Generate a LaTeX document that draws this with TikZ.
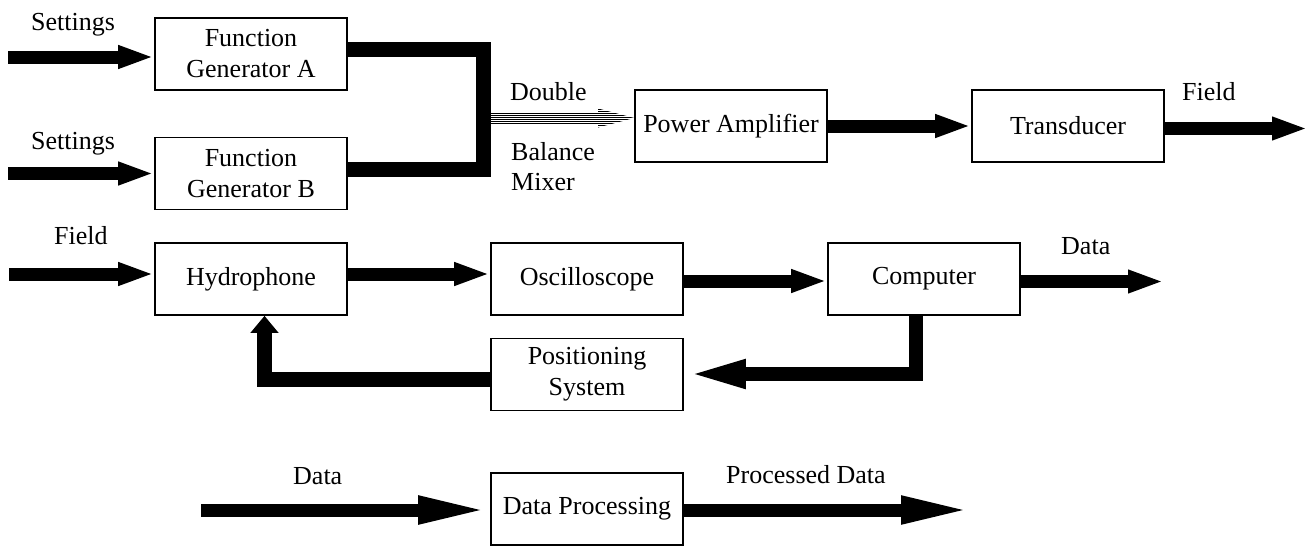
\documentclass[tikz,border=0pt]{standalone}
\usepackage{fontspec}
\setmainfont{Liberation Serif}
\usetikzlibrary{arrows.meta,calc}
\begin{document}
\begin{tikzpicture}[x=1pt,y=-1pt,
  box/.style={draw, line width=1.6pt, minimum width=192pt, minimum height=72pt,
    inner sep=0pt, align=center, font=\fontsize{26}{31}\selectfont},
  lbl/.style={anchor=base west, inner sep=0pt, font=\fontsize{26}{31}\selectfont},
  fat/.style={line width=13pt, -{Triangle[length=36pt,width=21pt]}},
  fatlong/.style={line width=13pt, -{Triangle[length=72pt,width=25pt]}},
  bus/.style={line width=15pt, line join=miter},
  stripe/.style={line width=1.0pt}
]
\useasboundingbox (0,0) rectangle (1309,546);

% boxes
\node[box] (fga) at (251,54) {Function\\Generator A};
\node[box] (fgb) at (251,173.5) {Function\\Generator B};
\node[box] (pa) at (731,126) {Power Amplifier};
\node[box] (tr) at (1068,126) {Transducer};
\node[box] (hyd) at (251,279) {Hydrophone};
\node[box] (osc) at (587,279) {Oscilloscope};
\node[box] (comp) at (924,279) {Computer};
\node[box] (pos) at (587,374.5) {Positioning\\System};
\node[box] (dp) at (587,509) {Data Processing};

% labels
\node[lbl, anchor=base] (ls1) at (73,30) {Settings};
\node[lbl, anchor=base] (ls2) at (73,149) {Settings};
\node[lbl] (ldouble) at (510,100) {Double};
\node[lbl] (lbal) at (511,160) {Balance};
\node[lbl] (lmix) at (511,190) {Mixer};
\node[lbl] (lf1) at (1182,100) {Field};
\node[lbl] (lf2) at (54,244) {Field};
\node[lbl] (ld1) at (1061,254) {Data};
\node[lbl] (ld2) at (293,484) {Data};
\node[lbl] (lpd) at (726,483) {Processed Data};

% coordinates
\coordinate (s1) at (8,57);
\coordinate (s2) at (8,173.5);
\coordinate (mt) at (483,49.5);
\coordinate (mb) at (483,169.5);
\coordinate (mo) at (491,118);
\coordinate (mh) at (598,118);
\coordinate (fe) at (1308,128.5);
\coordinate (fi) at (9,274);
\coordinate (do) at (1164,281.5);
\coordinate (cp) at (915.5,374);
\coordinate (ph) at (264.5,379.5);
\coordinate (di) at (201,510);
\coordinate (dout) at (973,510);

% settings inputs
\draw[fat] (s1) -- (s1 -| fga.west);
\draw[fat] (s2) -- (s2 -| fgb.west);

% mixer bus
\draw[bus] (fga.east |- mt) -- (mt) -- (mb) -- (fgb.east |- mb);

% striped mixer output
\foreach \dy in {-5,-3,-1,1,3,5}
  \draw[stripe] ($(mo)+(0,\dy)$) -- ($(mh)+(0,\dy)$);
\begin{scope}
  \clip ($(mh)+(0,-9.5)$) -- (pa.west |- mo) -- ($(mh)+(0,9.5)$) -- cycle;
  \foreach \dy in {-9,-7,-5,-3,-1,1,3,5,7,9}
    \draw[stripe] ($(mh)+(0,\dy)$) -- ($(pa.west |- mo)+(0,\dy)$);
\end{scope}

% top row
\draw[fat] (pa.east) -- (tr.west);
\draw[fat] (tr.east |- fe) -- (fe);

% middle row
\draw[fat] (fi) -- (fi -| hyd.west);
\draw[fat] ([yshift=5pt]hyd.east) -- ([yshift=5pt]osc.west);
\draw[fat] ([yshift=-2pt]osc.east) -- ([yshift=-2pt]comp.west);
\draw[fat] (comp.east |- do) -- (do);

% feedback
\draw[line width=14pt, line join=miter, -{Triangle[length=62pt,width=25pt]}]
  (cp |- comp.south) -- (cp) -- (pos.east |- cp);
\draw[line width=15pt, line join=miter, -{Triangle[length=17pt,width=27pt]}]
  (pos.west |- ph) -- (ph) -- (ph |- hyd.south);

% bottom row
\draw[fatlong] (di) -- (di -| dp.west);
\draw[fatlong] (dp.east |- dout) -- (dout);
\end{tikzpicture}
\end{document}
